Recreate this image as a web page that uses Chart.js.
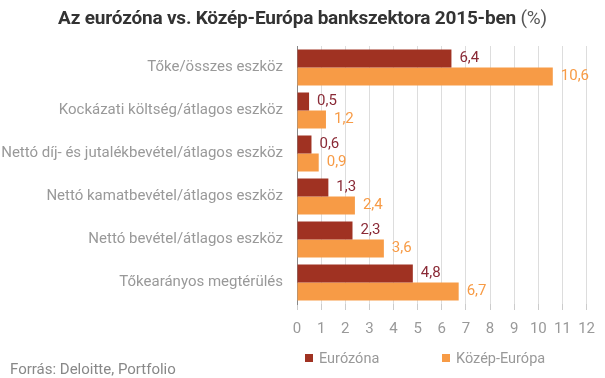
<!DOCTYPE html>
<html><head><meta charset="utf-8">
<script src="https://cdn.jsdelivr.net/npm/chart.js@4/dist/chart.umd.min.js"></script>
<style>
html,body{margin:0;padding:0;background:#fff;}
#wrap{position:relative;width:605px;height:378px;font-family:Roboto,sans-serif;}
#title{position:absolute;left:0;top:6px;width:605px;text-align:center;font-size:19px;font-weight:bold;color:#333;letter-spacing:-0.2px;}
#title span{font-weight:normal;color:#555;}
#src{position:absolute;left:10px;top:360px;font-size:15px;color:#888;}
.leg{position:absolute;top:350px;font-size:14.5px;color:#999;}
.leg i{display:inline-block;width:8px;height:8px;margin-right:6px;vertical-align:1px;}
canvas{position:absolute;left:0;top:0;}
</style></head>
<body><div id="wrap">
<canvas id="c" width="605" height="378"></canvas>
<div id="title">Az eurózóna vs. Közép-Európa bankszektora 2015-ben <span>(%)</span></div>
<div class="leg" style="left:305px"><i style="background:#a03222"></i>Eurózóna</div>
<div class="leg" style="left:442px"><i style="background:#f79b46"></i>Közép-Európa</div>
<div id="src">Forrás: Deloitte, Portfolio</div>
</div>
<script>
const categories = ["Tőke/összes eszköz","Kockázati költség/átlagos eszköz","Nettó díj- és jutalékbevétel/átlagos eszköz","Nettó kamatbevétel/átlagos eszköz","Nettó bevétel/átlagos eszköz","Tőkearányos megtérülés"];
const eurozone = [6.4, 0.5, 0.6, 1.3, 2.3, 4.8];
const centralEurope = [10.6, 1.2, 0.9, 2.4, 3.6, 6.7];
const seriesNames = ["Eurózóna", "Közép-Európa"];

const labelPlugin = {
  id: 'vlabels',
  afterDatasetsDraw(chart) {
    const ctx = chart.ctx;
    const colors = ['#8a2a36', '#f79b46'];
    chart.data.datasets.forEach((ds, i) => {
      const meta = chart.getDatasetMeta(i);
      meta.data.forEach((bar, j) => {
        ctx.save();
        ctx.font = '15px Roboto, sans-serif';
        ctx.fillStyle = colors[i];
        ctx.textBaseline = 'middle';
        ctx.textAlign = 'left';
        ctx.fillText(String(ds.data[j]).replace('.', ','), bar.x + 8, bar.y);
        ctx.restore();
      });
    });
  }
};

new Chart(document.getElementById('c'), {
  type: 'bar',
  data: {
    labels: categories,
    datasets: [
      {label: seriesNames[0], data: eurozone, backgroundColor: '#a03222'},
      {label: seriesNames[1], data: centralEurope, backgroundColor: '#f79b46'}
    ]
  },
  options: {
    indexAxis: 'y',
    responsive: false,
    animation: false,
    layout: {padding: {top: 46, bottom: 40, right: 12, left: 0}},
    plugins: {legend: {display: false}, tooltip: {enabled: false}, title: {display: false}},
    datasets: {bar: {categoryPercentage: 0.84, barPercentage: 1}},
    scales: {
      x: {
        min: 0, max: 12,
        afterFit(scale) { scale.height = 34; },
        ticks: {stepSize: 1, color: '#999', font: {family: 'Roboto', size: 15}, padding: 10},
        grid: {color: '#dddddd', drawTicks: true, tickLength: 6, tickColor: '#cccccc'},
        border: {display: false}
      },
      y: {
        afterFit(scale) { scale.width = 297; },
        ticks: {color: '#999', font: {family: 'Roboto', size: 15}, padding: 14},
        grid: {display: false, drawTicks: false},
        border: {display: true, color: '#888'}
      }
    }
  },
  plugins: [labelPlugin]
});
</script>
</body></html>
